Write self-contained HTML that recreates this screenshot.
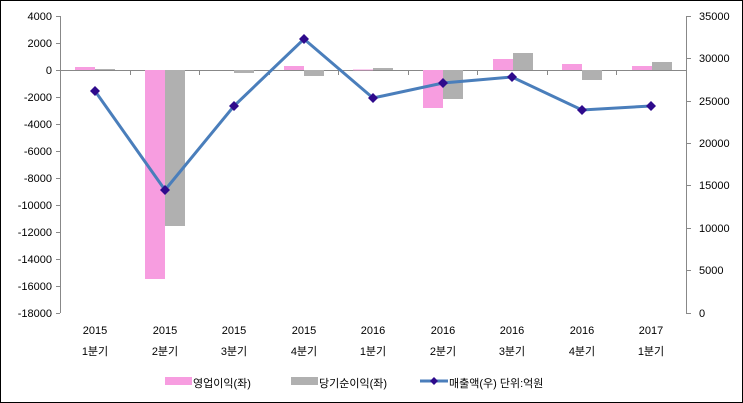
<!DOCTYPE html>
<html><head><meta charset="utf-8"><style>
html,body{margin:0;padding:0;background:#fff}
svg{display:block}
text{font-family:"Liberation Sans","Noto Sans CJK KR",sans-serif;font-size:11px;fill:#000}
</style></head><body>
<svg width="743" height="403" viewBox="0 0 743 403">
<rect x="0.5" y="0.5" width="742" height="402" fill="#fff" stroke="#000"/>
<g stroke="#888" stroke-width="1" fill="none">
<line x1="60.5" y1="16" x2="60.5" y2="313"/>
<line x1="686.5" y1="16" x2="686.5" y2="313"/>
<line x1="60" y1="70.5" x2="686" y2="70.5"/>
<path d="M56 16.5h4M56 43.5h4M56 70.5h4M56 97.5h4M56 124.5h4M56 151.5h4M56 178.5h4M56 205.5h4M56 232.5h4M56 259.5h4M56 286.5h4M56 313.5h4"/>
<path d="M686 16.5h5M686 58.5h5M686 101.5h5M686 143.5h5M686 185.5h5M686 228.5h5M686 270.5h5M686 313.5h5"/>
<path d="M130.5 70v5M199.5 70v5M269.5 70v5M338.5 70v5M408.5 70v5M477.5 70v5M547.5 70v5M616.5 70v5"/>
</g>
<g text-anchor="end">
<text x="52" y="20">4000</text><text x="52" y="47">2000</text><text x="52" y="74">0</text>
<text x="52" y="101">-2000</text><text x="52" y="128">-4000</text><text x="52" y="155">-6000</text>
<text x="52" y="182">-8000</text><text x="52" y="209">-10000</text><text x="52" y="236">-12000</text>
<text x="52" y="263">-14000</text><text x="52" y="290">-16000</text><text x="52" y="317">-18000</text>
</g>
<g text-anchor="start">
<text x="699" y="20">35000</text><text x="699" y="62">30000</text><text x="699" y="105">25000</text>
<text x="699" y="147">20000</text><text x="699" y="189">15000</text><text x="699" y="232">10000</text>
<text x="699" y="274">5000</text><text x="699" y="317">0</text>
</g>
<g fill="#f79de0">
<rect x="75" y="67" width="20" height="3"/>
<rect x="145" y="70" width="20" height="209"/>
<rect x="284" y="66" width="20" height="4"/>
<rect x="353" y="69.5" width="20" height="0.8"/>
<rect x="423" y="70" width="20" height="38"/>
<rect x="493" y="59" width="20" height="11"/>
<rect x="562" y="64" width="20" height="6"/>
<rect x="632" y="66" width="20" height="4"/>
</g>
<g fill="#b0b0b0">
<rect x="95" y="69" width="20" height="1"/>
<rect x="165" y="70" width="20" height="156"/>
<rect x="234" y="70" width="20" height="3"/>
<rect x="304" y="70" width="20" height="6"/>
<rect x="373" y="68" width="20" height="2"/>
<rect x="443" y="70" width="20" height="29"/>
<rect x="513" y="53" width="20" height="17"/>
<rect x="582" y="70" width="20" height="10"/>
<rect x="652" y="62" width="20" height="8"/>
</g>
<polyline fill="none" stroke="#4a7ebb" stroke-width="3" points="95,91 165,190 234,106 304,39 373,98 443,83 512,77 582,110 651,106"/>
<g fill="#2e0a8c">
<path d="M95 86l5 5-5 5-5-5z"/><path d="M165 185l5 5-5 5-5-5z"/><path d="M234 101l5 5-5 5-5-5z"/>
<path d="M304 34l5 5-5 5-5-5z"/><path d="M373 93l5 5-5 5-5-5z"/><path d="M443 78l5 5-5 5-5-5z"/>
<path d="M512 72l5 5-5 5-5-5z"/><path d="M582 105l5 5-5 5-5-5z"/><path d="M651 101l5 5-5 5-5-5z"/>
</g>
<g text-anchor="middle" font-size="12">
<text x="95" y="334">2015</text><text x="165" y="334">2015</text><text x="234" y="334">2015</text>
<text x="304" y="334">2015</text><text x="373" y="334">2016</text><text x="443" y="334">2016</text>
<text x="512" y="334">2016</text><text x="582" y="334">2016</text><text x="651" y="334">2017</text>
<text x="95" y="355">1분기</text><text x="165" y="355">2분기</text><text x="234" y="355">3분기</text>
<text x="304" y="355">4분기</text><text x="373" y="355">1분기</text><text x="443" y="355">2분기</text>
<text x="512" y="355">3분기</text><text x="582" y="355">4분기</text><text x="651" y="355">1분기</text>
</g>
<rect x="165" y="377" width="27" height="8" fill="#f79de0"/>
<text x="193" y="387" font-size="12">영업이익(좌)</text>
<rect x="291" y="377" width="27" height="8" fill="#b0b0b0"/>
<text x="319" y="387" font-size="12">당기순이익(좌)</text>
<line x1="420" y1="381" x2="448" y2="381" stroke="#4a7ebb" stroke-width="3"/>
<path d="M434 377l4 4-4 4-4-4z" fill="#2e0a8c"/>
<text x="449" y="387" font-size="12">매출액(우)  단위:억원</text>
</svg>
</body></html>
